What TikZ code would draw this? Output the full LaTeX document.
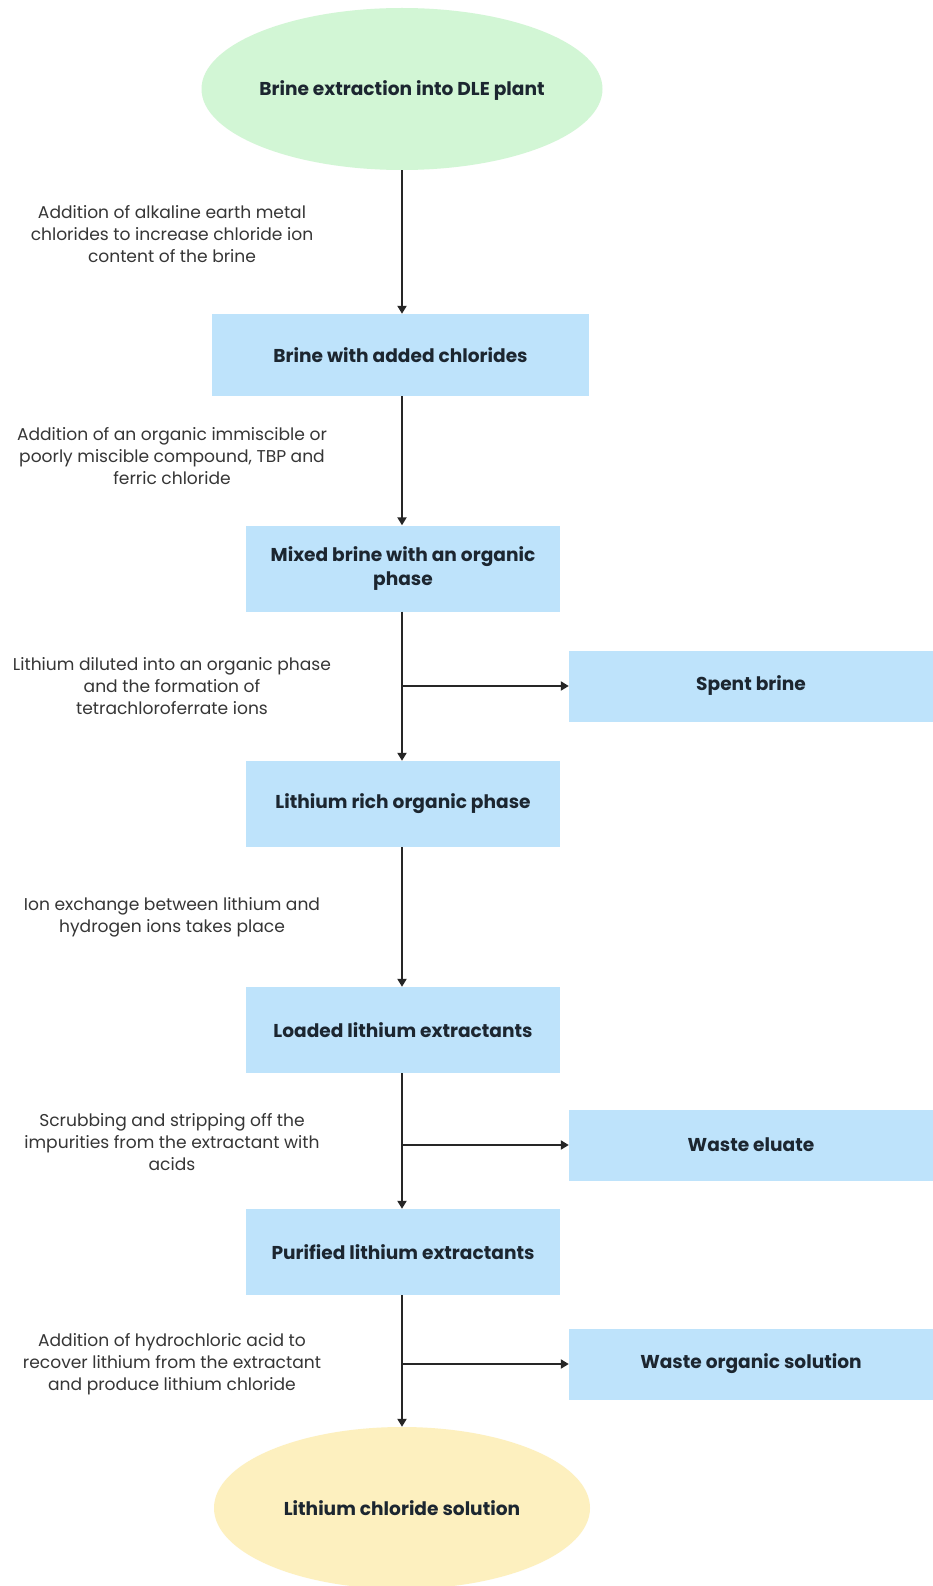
\documentclass[tikz,border=0pt]{standalone}
\usepackage{fontspec}
\setmainfont{Poppins}
\usetikzlibrary{shapes.geometric,arrows.meta}
\definecolor{mint}{HTML}{D2F6D5}
\definecolor{skyfill}{HTML}{BEE3FB}
\definecolor{cream}{HTML}{FDF0BF}
\definecolor{titleink}{HTML}{1C2630}
\definecolor{noteink}{HTML}{363636}
\tikzset{
  titletext/.style={font=\fontsize{18.6}{23.5}\selectfont\bfseries, text=titleink},
  stagebox/.style={rectangle, fill=skyfill, draw=none, inner sep=0pt,
    minimum width=314pt, minimum height=86pt, align=center, titletext},
  widebox/.style={stagebox, minimum width=377pt, minimum height=82pt},
  sidebox/.style={stagebox, minimum width=364pt, minimum height=71pt},
  endcap/.style={ellipse, draw=none, inner sep=0pt, align=center, titletext},
  note/.style={align=center, inner sep=0pt,
    font=\fontsize{17.1}{22.3}\selectfont, text=noteink},
  flow/.style={draw=black!85, line width=2pt,
    -{Triangle[length=8pt,width=9pt]}}
}
\begin{document}
\begin{tikzpicture}[x=1pt, y=-1pt]
  \useasboundingbox (0,0) rectangle (933,1586);
  \fill[white] (0,0) rectangle (933,1586);

  % main column
  \node[endcap, fill=mint, minimum width=401pt, minimum height=162pt] (src) at (402,89) {};
  \node[titletext] (srclabel) at (402,91) {Brine extraction into DLE plant};
  \node[widebox] (b1) at (400.5,355) {Brine with added chlorides};
  \node[stagebox] (b2) at (403,568.5) {Mixed brine with an organic\\phase};
  \node[stagebox] (b3) at (403,804) {Lithium rich organic phase};
  \node[stagebox] (b4) at (403,1030) {Loaded lithium extractants};
  \node[stagebox] (b5) at (403,1252) {Purified lithium extractants};
  \node[endcap, fill=cream, minimum width=376pt, minimum height=162pt] (out) at (402,1508) {Lithium chloride solution};

  % side streams
  \node[sidebox] (spent) at (751,686) {Spent brine};
  \node[sidebox] (eluate) at (751,1145) {Waste eluate};
  \node[sidebox] (organic) at (751,1364) {Waste organic solution};

  % step notes
  \node[note] (n1) at (172,234) {Addition of alkaline earth metal\\chlorides to increase chloride ion\\content of the brine};
  \node[note] (n2) at (172,456) {Addition of an organic immiscible or\\poorly miscible compound, TBP and\\ferric chloride};
  \node[note] (n3) at (172,686) {Lithium diluted into an organic phase\\and the formation of\\tetrachloroferrate ions};
  \node[note] (n4) at (172,917) {Ion exchange between lithium and\\hydrogen ions takes place};
  \node[note] (n5) at (172,1142) {Scrubbing and stripping off the\\impurities from the extractant with\\acids};
  \node[note] (n6) at (172,1364) {Addition of hydrochloric acid to\\recover lithium from the extractant\\and produce lithium chloride};

  % junctions on the main line, level with the side streams
  \coordinate (j1) at (402,686);
  \coordinate (j2) at (402,1145);
  \coordinate (j3) at (402,1364);

  % connectors
  \draw[flow] (src.south -| 402,0) -- (b1.north -| 402,0);
  \draw[flow] (b1.south -| 402,0) -- (b2.north -| 402,0);
  \draw[flow] (b2.south -| 402,0) -- (b3.north -| 402,0);
  \draw[flow] (b3.south -| 402,0) -- (b4.north -| 402,0);
  \draw[flow] (b4.south -| 402,0) -- (b5.north -| 402,0);
  \draw[flow] (b5.south -| 402,0) -- (out.north -| 402,0);
  \draw[flow] (j1) -- (spent.west);
  \draw[flow] (j2) -- (eluate.west);
  \draw[flow] (j3) -- (organic.west);
\end{tikzpicture}
\end{document}
